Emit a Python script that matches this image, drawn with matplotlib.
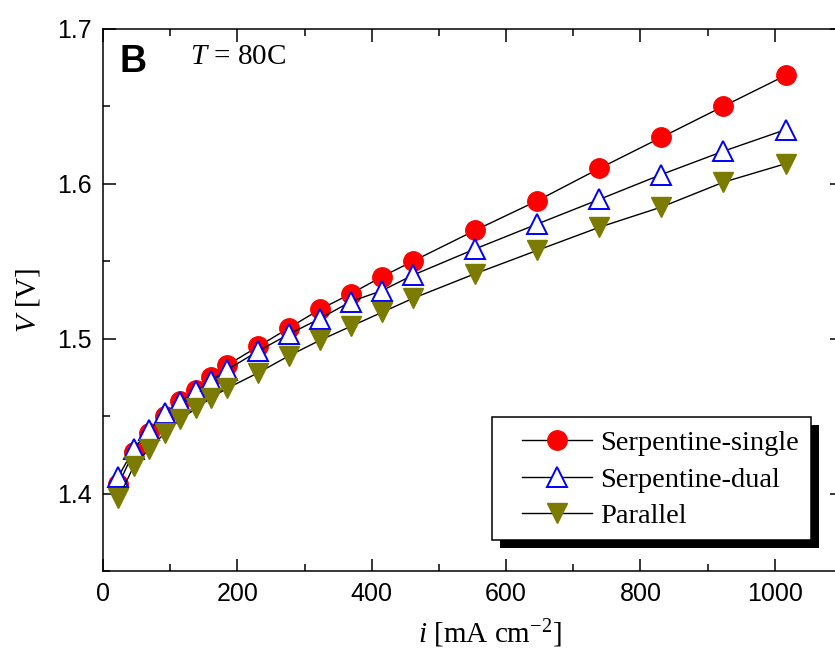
import matplotlib
matplotlib.use("Agg")
import matplotlib.pyplot as plt
from matplotlib.patches import Rectangle
from matplotlib.transforms import IdentityTransform
from matplotlib.ticker import MultipleLocator

# current density, mA cm-2
current = [23, 46, 69, 92, 115, 138, 161, 185, 231, 277, 323, 369, 415, 461,
           554, 646, 739, 831, 923, 1016]
# cell voltage, V
v_single = [1.406, 1.427, 1.439, 1.450, 1.460, 1.467, 1.475, 1.483, 1.495, 1.507,
            1.519, 1.529, 1.540, 1.550, 1.570, 1.589, 1.610, 1.630, 1.650, 1.670]
v_dual = [1.411, 1.429, 1.441, 1.452, 1.459, 1.466, 1.473, 1.480, 1.492, 1.503,
          1.513, 1.524, 1.531, 1.541, 1.558, 1.574, 1.590, 1.606, 1.621, 1.635]
v_parallel = [1.397, 1.418, 1.429, 1.439, 1.448, 1.455, 1.462, 1.468, 1.478, 1.489,
              1.499, 1.508, 1.517, 1.526, 1.542, 1.557, 1.572, 1.585, 1.601, 1.613]
labels = ["Serpentine-single", "Serpentine-dual", "Parallel"]

serif = "Liberation Serif"
sans = "Liberation Sans"
plt.rcParams["mathtext.fontset"] = "custom"
plt.rcParams["mathtext.rm"] = serif
plt.rcParams["mathtext.it"] = serif + ":italic"

fig = plt.figure(figsize=(8.35, 6.55), dpi=100)
ax = fig.add_axes([103 / 835, 84 / 655, 739 / 835, 542 / 655])

ax.plot(current, v_single, color="k", lw=1, marker="o", ms=14,
        mfc="red", mec="red", label=labels[0])
ax.plot(current, v_dual, color="k", lw=1, marker="^", ms=14,
        mfc="white", mec="blue", mew=1.4, label=labels[1])
ax.plot(current, v_parallel, color="k", lw=1, marker="v", ms=14,
        mfc="#7b7b00", mec="#7b7b00", label=labels[2])

ax.set_xlim(0, 1100)
ax.set_ylim(1.35, 1.7)
ax.xaxis.set_major_locator(MultipleLocator(200))
ax.xaxis.set_minor_locator(MultipleLocator(100))
ax.yaxis.set_major_locator(MultipleLocator(0.1))
ax.yaxis.set_minor_locator(MultipleLocator(0.05))
ax.tick_params(which="both", direction="in", top=True, right=True, width=1.1)
ax.tick_params(which="major", length=9, labelsize=18, pad=8)
ax.tick_params(which="minor", length=5)
for lab in ax.get_xticklabels() + ax.get_yticklabels():
    lab.set_fontfamily(sans)
for sp in ax.spines.values():
    sp.set_linewidth(1.1)

ax.set_xlabel(r"$\it{i}$ [mA cm$^{-2}$]", family=serif, fontsize=21)
ax.xaxis.set_label_coords((490 - 103) / 739, -0.085)
ax.set_ylabel(r"$\it{V}$ [V]", family=serif, fontsize=21)
ax.yaxis.set_label_coords(-0.082, 0.5)

ax.text(0.022, 0.972, "B", transform=ax.transAxes, family=sans,
        fontweight="bold", fontsize=27, va="top")
ax.text(0.118, 0.972, r"$\it{T}$ = 80C", transform=ax.transAxes, family=serif,
        fontsize=21, va="top")

leg = ax.legend(loc="lower right", bbox_to_anchor=(0.942, 0.077),
                prop={"family": serif, "size": 20.5}, frameon=False,
                handlelength=2.45, handletextpad=0.3, borderpad=0,
                borderaxespad=0, labelspacing=0.38)
leg.set_zorder(6)

# boxed frame with a hard black drop shadow, wider on the left like the original
fig.canvas.draw()
bb = leg.get_window_extent()
x0, y0 = bb.x0 - 30, bb.y0 - 11
w, h = bb.width + 42, bb.height + 24
ax.add_patch(Rectangle((x0 + 8, y0 - 8), w, h, transform=IdentityTransform(),
                       facecolor="k", edgecolor="none", zorder=5.4, clip_on=False))
ax.add_patch(Rectangle((x0, y0), w, h, transform=IdentityTransform(),
                       facecolor="white", edgecolor="k", lw=1.1, zorder=5.5,
                       clip_on=False))

fig.savefig("out.png", dpi=100)
